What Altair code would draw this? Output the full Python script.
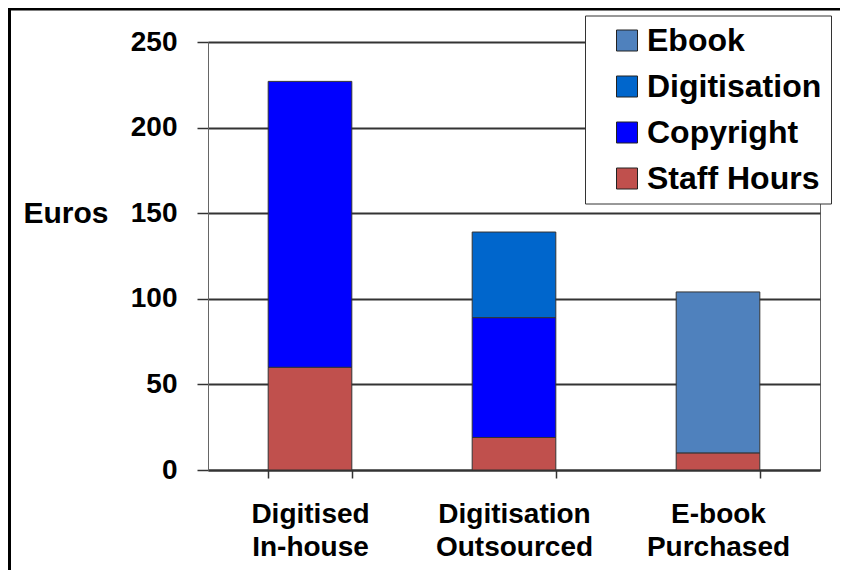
import altair as alt
import pandas as pd

categories = ["Digitised In-house", "Digitisation Outsourced", "E-book Purchased"]
series = ["Ebook", "Digitisation", "Copyright", "Staff Hours"]
colors = ["#4F81BD", "#0066CC", "#0000FF", "#C0504D"]
staff_hours = [60, 19, 10]
copyright_cost = [167, 70, 0]
digitisation_cost = [0, 50, 0]
ebook_cost = [0, 0, 94]
y_ticks = [0, 50, 100, 150, 200, 250]

stack_series = [
    ("Staff Hours", staff_hours),
    ("Copyright", copyright_cost),
    ("Digitisation", digitisation_cost),
    ("Ebook", ebook_cost),
]
rows = []
for i, c in enumerate(categories):
    for k, (s, vals) in enumerate(stack_series):
        if vals[i] > 0:
            rows.append({"category": c, "series": s, "value": vals[i], "order": k})
df = pd.DataFrame(rows)

FONT = "Liberation Sans"

bars = alt.Chart(df).mark_bar(stroke="#333333", strokeWidth=1).encode(
    x=alt.X(
        "category:N",
        sort=categories,
        scale=alt.Scale(paddingInner=0.59, paddingOuter=0.295),
        axis=alt.Axis(
            title=None,
            labelExpr="split(datum.label, ' ')",
            labelAngle=0,
            labelFont=FONT,
            labelFontWeight="bold",
            labelFontSize=28,
            labelColor="black",
            labelLineHeight=33,
            labelPadding=22,
            tickBand="extent",
            tickSize=8,
            tickColor="#333333",
            tickWidth=1.5,
            domainColor="#333333",
            domainWidth=2,
            grid=False,
        ),
    ),
    y=alt.Y(
        "value:Q",
        stack="zero",
        scale=alt.Scale(domain=[0, 250], nice=False),
        axis=alt.Axis(
            values=y_ticks,
            title="Euros",
            titleAngle=0,
            titleX=-185,
            titleY=171,
            titleAlign="left",
            titleBaseline="middle",
            titleFont=FONT,
            titleFontSize=30,
            titleFontWeight="bold",
            titleColor="black",
            labelFont=FONT,
            labelFontSize=28,
            labelFontWeight="bold",
            labelColor="black",
            labelPadding=20,
            tickSize=11,
            tickColor="#333333",
            tickWidth=1.5,
            domainColor="#666666",
            gridColor="#333333",
            gridWidth=1.8,
        ),
    ),
    color=alt.Color(
        "series:N",
        scale=alt.Scale(domain=series, range=colors),
        legend=alt.Legend(
            title=None,
            orient="none",
            legendX=377,
            legendY=-26.5,
            fillColor="white",
            strokeColor="#333333",
            padding=9,
            symbolType="square",
            symbolSize=441,
            symbolStrokeColor="#222222",
            symbolStrokeWidth=1,
            symbolOpacity=1,
            labelFont=FONT,
            labelFontSize=32,
            labelFontWeight="bold",
            labelColor="black",
            labelOffset=4,
            labelLimit=0,
            rowPadding=14,
            symbolOffset=17,
        ),
    ),
    order=alt.Order("order:Q", sort="ascending"),
)

frame_data = pd.DataFrame({"k": [0]})
frame_top = alt.Chart(frame_data).mark_rule(color="black", strokeWidth=3).encode(
    x=alt.value(-200), x2=alt.value(660), y=alt.value(-33), y2=alt.value(-33)
)
frame_left = alt.Chart(frame_data).mark_rule(color="black", strokeWidth=3).encode(
    x=alt.value(-198.5), x2=alt.value(-198.5), y=alt.value(-34), y2=alt.value(700)
)

chart = alt.layer(bars, frame_top, frame_left).properties(
    width=612,
    height=428,
    autosize=alt.AutoSizeParams(type="none"),
    padding={"left": 200, "top": 34, "right": 20, "bottom": 100},
).configure_view(stroke="#666666", strokeWidth=1)

chart.save("out.html", embed_options={"renderer": "svg", "actions": False})
